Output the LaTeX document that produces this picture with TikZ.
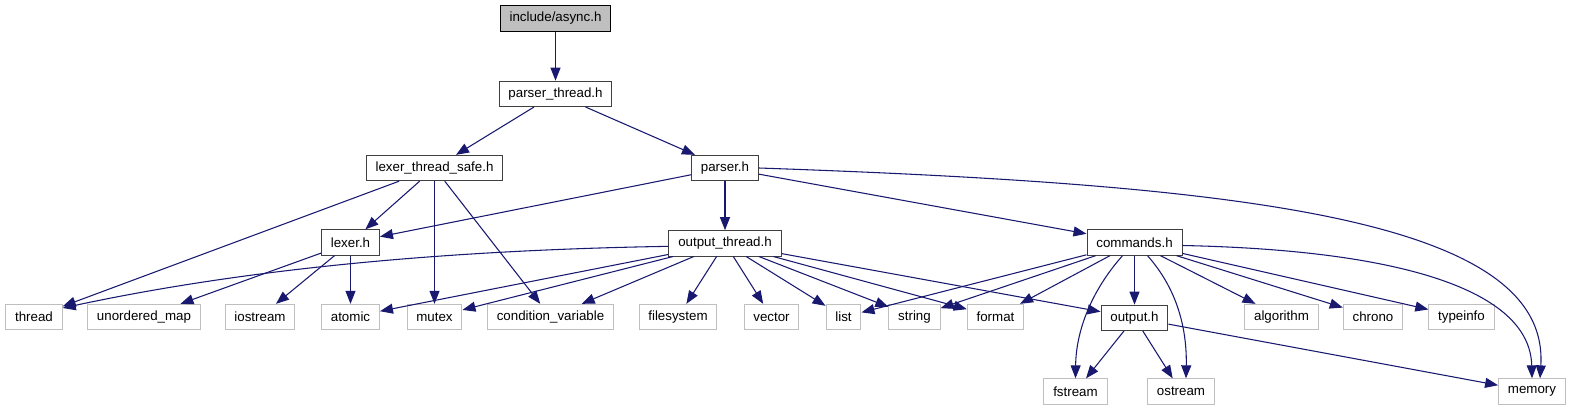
\documentclass[tikz,border=0pt]{standalone}
\usepackage{fontspec}
\setmainfont{Liberation Sans}
\usepackage{tikz}
\usetikzlibrary{positioning, arrows.meta, calc}
\definecolor{edgeblue}{HTML}{191970}
\definecolor{boxdark}{HTML}{404040}
\definecolor{boxlight}{HTML}{BFBFBF}

\begin{document}
\begin{tikzpicture}[
        x=0.75pt, y=-0.75pt,
        node distance = 36.75pt and 5mm,
        hdr/.style  = {draw=boxdark, line width=0.75pt, rectangle, fill=white, minimum height=19pt, inner xsep=7pt, inner ysep=0pt, font=\fontsize{10}{12}\selectfont},
        root/.style = {hdr, draw=black, fill=boxlight},
        sys/.style  = {hdr, draw=boxlight},
        arrow/.style = {-{Triangle[length=9.75pt, width=7.5pt]}, edgeblue, line width=0.8pt},
    ]
        \useasboundingbox (0,0) rectangle (1571,411);

        %---- project headers ----
        \node[root] (async) at (555.5,18.5) {include/async.h};
        \node[hdr, below=of async] (pthread) {parser\_thread.h};
        \node[hdr] (lexts) at (434.5,168) {lexer\_thread\_safe.h};
        \node[hdr] (parser) at (725,168) {parser.h};
        \node[hdr] (lexer) at (350.5,242.5) {lexer.h};
        \node[hdr, below=of parser] (outthr) {output\_thread.h};
        \node[hdr] (cmds) at (1134.5,242.5) {commands.h};
        \node[hdr, below=of cmds] (output) {output.h};

        %---- system headers ----
        \node[sys] (thread) at (34,317) {thread};
        \node[sys] (umap) at (144,317) {unordered\_map};
        \node[sys] (iostr) at (260,317) {iostream};
        \node[sys] (atomic) at (350.5,317) {atomic};
        \node[sys] (mutex) at (434.5,317) {mutex};
        \node[sys] (condvar) at (550.5,317) {condition\_variable};
        \node[sys] (fsys) at (678,317) {filesystem};
        \node[sys] (vector) at (771.5,317) {vector};
        \node[sys] (list) at (843.5,317) {list};
        \node[sys] (string) at (914.5,317) {string};
        \node[sys] (format) at (995.5,317) {format};
        \node[sys] (algo) at (1281.5,317) {algorithm};
        \node[sys] (chrono) at (1373,317) {chrono};
        \node[sys] (typeinfo) at (1461.5,317) {typeinfo};
        \node[sys] (fstream) at (1075.5,391.5) {fstream};
        \node[sys] (ostream) at (1181,391.5) {ostream};
        \node[sys] (memory) at (1532,391.5) {memory};

        %---- include edges ----
        \draw[arrow] (async) -- (pthread);
        \draw[arrow] (pthread) -- (lexts);
        \draw[arrow] (pthread) -- (parser);
        \draw[arrow] (lexts) -- (thread);
        \draw[arrow] (lexts) -- (lexer);
        \draw[arrow] (lexts) -- (mutex);
        \draw[arrow] (lexts) -- (condvar);
        \draw[arrow] (parser) -- (lexer);
        \draw[arrow] (parser) -- (outthr);
        \draw[arrow] (parser) -- (cmds);
        \draw[arrow] (parser.east) .. controls (1250,185) and (1550,220) .. ($(memory.north)+(8,0)$);
        \draw[arrow] (lexer) -- (umap);
        \draw[arrow] (lexer) -- (iostr);
        \draw[arrow] (lexer) -- (atomic);
        \draw[arrow] ($(outthr.west)+(0,3)$) .. controls (450,250) and (250,268) .. ($(thread.east)+(0,-9)$);
        \draw[arrow] (outthr) -- (atomic);
        \draw[arrow] (outthr) -- (mutex);
        \draw[arrow] (outthr) -- (condvar);
        \draw[arrow] (outthr) -- (fsys);
        \draw[arrow] (outthr) -- (vector);
        \draw[arrow] (outthr) -- (list);
        \draw[arrow] (outthr) -- (string);
        \draw[arrow] (outthr) -- (format);
        \draw[arrow] (outthr) -- (output);
        \draw[arrow] (cmds) -- (list);
        \draw[arrow] (cmds) -- (string);
        \draw[arrow] (cmds) -- (format);
        \draw[arrow] ($(cmds.south)+(-12,0)$) .. controls (1092,290) and (1076,330) .. (fstream.north);
        \draw[arrow] (cmds) -- (output);
        \draw[arrow] ($(cmds.south)+(13,0)$) .. controls (1178,290) and (1187,330) .. ($(ostream.north)+(5,0)$);
        \draw[arrow] (cmds) -- (algo);
        \draw[arrow] (cmds) -- (chrono);
        \draw[arrow] (cmds) -- (typeinfo);
        \draw[arrow] ($(cmds.east)+(0,3)$) .. controls (1400,250) and (1530,290) .. (memory.north);
        \draw[arrow] (output) -- (fstream);
        \draw[arrow] (output) -- (ostream);
        \draw[arrow] (output) -- (memory);
    \end{tikzpicture}
\end{document}
